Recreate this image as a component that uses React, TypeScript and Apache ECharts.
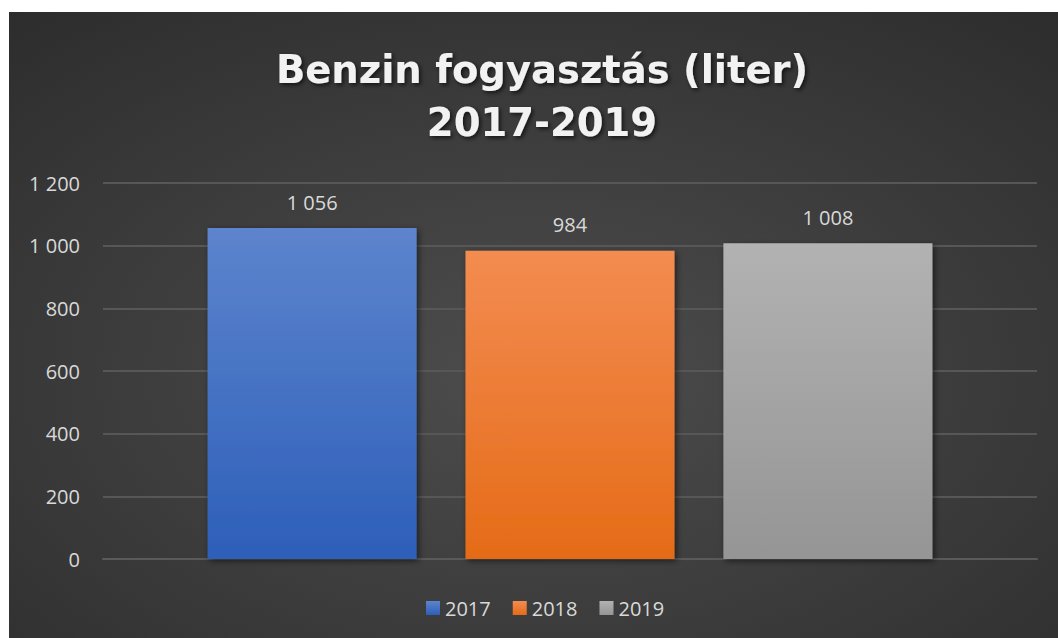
import React, { useEffect, useRef } from "react";
import * as echarts from "echarts";

const categories = [""];
const seriesNames = ["2017", "2018", "2019"];
const values2017 = [1056];
const values2018 = [984];
const values2019 = [1008];
const yTicks = { min: 0, max: 1200, interval: 200 };
const titleText = "Benzin fogyasztás (liter)\n2017-2019";

const fmt = (v: number) => {
  const s = String(Math.round(v));
  return s.replace(/\B(?=(\d{3})+(?!\d))/g, " ");
};

const grad = (top: string, bottom: string) =>
  new echarts.graphic.LinearGradient(0, 0, 0, 1, [
    { offset: 0, color: top },
    { offset: 1, color: bottom },
  ]);

export default function App() {
  const ref = useRef<HTMLDivElement>(null);
  useEffect(() => {
    if (!ref.current) return;
    const chart = echarts.init(ref.current, null, { renderer: "svg" });
    const font = "'Open Sans', sans-serif";
    const colors = [
      grad("#5d84cd", "#2d5fb9"),
      grad("#f38c51", "#e56b17"),
      grad("#b2b2b2", "#959595"),
    ];
    const data = [values2017, values2018, values2019];
    chart.setOption({
      animation: false,
      graphic: [
        {
          type: "rect",
          z: -10,
          silent: true,
          shape: { x: 9, y: 12, width: 1049, height: 626 },
          style: {
            fill: {
              type: "radial",
              x: 0.5,
              y: 0.58,
              r: 0.95,
              colorStops: [
                { offset: 0, color: "#4d4d4d" },
                { offset: 1, color: "#252525" },
              ],
            },
          },
        },
      ],
      title: {
        text: titleText,
        left: 537,
        textAlign: "center",
        top: 38,
        textStyle: {
          fontFamily: "'DejaVu Sans', sans-serif",
          fontSize: 38.5,
          fontWeight: "bold",
          color: "#f2f2f2",
          lineHeight: 53,
          textShadowColor: "rgba(0,0,0,0.65)",
          textShadowBlur: 4,
          textShadowOffsetX: 2,
          textShadowOffsetY: 2,
        },
      },
      legend: {
        bottom: 15,
        left: 421,
        itemWidth: 14,
        itemHeight: 14,
        itemGap: 22,
        icon: "rect",
        textStyle: { color: "#d9d9d9", fontSize: 20, fontFamily: font },
        data: seriesNames,
      },
      grid: { left: 103, right: 21, top: 183, bottom: 79 },
      xAxis: {
        type: "category",
        data: categories,
        axisLine: { lineStyle: { color: "#5a5a5a", width: 2 } },
        axisTick: { show: false },
        axisLabel: { show: false },
      },
      yAxis: {
        type: "value",
        min: yTicks.min,
        max: yTicks.max,
        interval: yTicks.interval,
        axisLine: { show: false },
        axisTick: { show: false },
        splitLine: { lineStyle: { color: "#575757", width: 2 } },
        axisLabel: {
          color: "#d9d9d9",
          fontSize: 20,
          fontFamily: font,
          margin: 23,
          formatter: (v: number) => fmt(v),
        },
      },
      series: seriesNames.map((name, i) => ({
        name,
        type: "bar",
        data: data[i],
        barWidth: 209,
        barGap: "23.4%",
        itemStyle: {
          color: colors[i],
          shadowColor: "rgba(0,0,0,0.55)",
          shadowBlur: 6,
          shadowOffsetX: 2,
          shadowOffsetY: 2,
        },
        label: {
          show: true,
          position: "top",
          distance: 16,
          color: "#d9d9d9",
          fontSize: 20,
          fontFamily: font,
          formatter: (p: any) => fmt(p.value),
        },
      })),
    });
    return () => chart.dispose();
  }, []);
  return (
    <div
      ref={ref}
      style={{ position: "absolute", left: 0, top: 0, width: 1058, height: 638 }}
    />
  );
}
